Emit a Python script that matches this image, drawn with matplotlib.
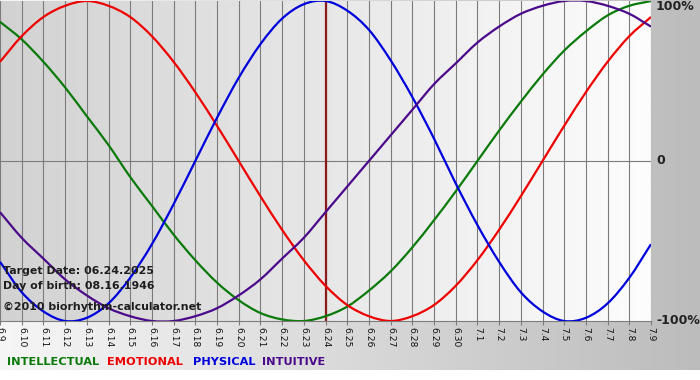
import numpy as np
import matplotlib
matplotlib.use("Agg")
import matplotlib.pyplot as plt
from matplotlib.colors import LinearSegmentedColormap
from matplotlib.path import Path
from matplotlib.patches import PathPatch

days = ["6.9", "6.10", "6.11", "6.12", "6.13", "6.14", "6.15", "6.16", "6.17",
        "6.18", "6.19", "6.20", "6.21", "6.22", "6.23", "6.24", "6.25", "6.26",
        "6.27", "6.28", "6.29", "6.30", "7.1", "7.2", "7.3", "7.4", "7.5",
        "7.6", "7.7", "7.8", "7.9"]
target_day = "6.24"

# values, -1 .. 1
intellectual = [0.87, 0.76, 0.62, 0.46, 0.28, 0.10, -0.10, -0.28, -0.46, -0.62,
                -0.76, -0.87, -0.95, -0.99, -1.00, -0.97, -0.91, -0.81, -0.69,
                -0.54, -0.37, -0.19, 0.00, 0.19, 0.37, 0.54, 0.69, 0.81, 0.91,
                0.97, 1.00]
emotional = [0.62, 0.78, 0.90, 0.97, 1.00, 0.97, 0.90, 0.78, 0.62, 0.43, 0.22,
             0.00, -0.22, -0.43, -0.62, -0.78, -0.90, -0.97, -1.00, -0.97,
             -0.90, -0.78, -0.62, -0.43, -0.22, 0.00, 0.22, 0.43, 0.62, 0.78,
             0.90]
physical = [-0.63, -0.82, -0.94, -1.00, -0.98, -0.89, -0.73, -0.52, -0.27,
            0.00, 0.27, 0.52, 0.73, 0.89, 0.98, 1.00, 0.94, 0.82, 0.63, 0.40,
            0.14, -0.14, -0.40, -0.63, -0.82, -0.94, -1.00, -0.98, -0.89,
            -0.73, -0.52]
intuitive = [-0.32, -0.48, -0.61, -0.74, -0.84, -0.92, -0.97, -1.00, -1.00,
             -0.97, -0.92, -0.84, -0.74, -0.61, -0.48, -0.32, -0.16, 0.00,
             0.16, 0.32, 0.48, 0.61, 0.74, 0.84, 0.92, 0.97, 1.00, 1.00, 0.97,
             0.92, 0.84]

series = [
    ("INTELLECTUAL", intellectual, "#0a7a0a"),
    ("EMOTIONAL", emotional, "#ee0000"),
    ("PHYSICAL", physical, "#0000dd"),
    ("INTUITIVE", intuitive, "#4b0a8a"),
]


def smooth_path(xs, ys):
    # bezier through the daily points (catmull-rom style handles)
    p = np.column_stack([xs, ys]).astype(float)
    ext = np.vstack([2 * p[0] - p[1], p, 2 * p[-1] - p[-2]])
    verts = [p[0]]
    codes = [Path.MOVETO]
    for i in range(1, len(ext) - 2):
        c1 = ext[i] + (ext[i + 1] - ext[i - 1]) / 6
        c2 = ext[i + 1] - (ext[i + 2] - ext[i]) / 6
        verts += [c1, c2, ext[i + 1]]
        codes += [Path.CURVE4] * 3
    return Path(verts, codes)


W, H = 700, 380
fig = plt.figure(figsize=(W / 100, H / 100), dpi=100)
fig.patch.set_facecolor("white")

grad = np.linspace(0, 1, 256).reshape(1, -1)

# page background gradient
bg = fig.add_axes([0, 0, 1, 1], zorder=0)
bg.imshow(grad, cmap=LinearSegmentedColormap.from_list("page", ["#f6f6f6", "#bcbcbc"]),
          aspect="auto", extent=[0, 1, 10 / H, 1])
bg.set_xlim(0, 1)
bg.set_ylim(0, 1)
bg.axis("off")

x = np.arange(len(days))
ax = fig.add_axes([0, 1 - 321 / H, 651 / W, 320 / H], zorder=1)
ax.imshow(grad, cmap=LinearSegmentedColormap.from_list("plot", ["#d2d2d2", "#fdfdfd"]),
          aspect="auto", extent=[0, len(days) - 1, -1, 1], zorder=0)

for xi in x:
    ax.axvline(xi, color="#7c7c7c", lw=0.8, zorder=1)
ax.axhline(0, color="#7c7c7c", lw=0.8, zorder=1)
ax.axvline(days.index(target_day), color="#8a1c1c", lw=1.6, zorder=2)

for name, vals, col in series:
    ax.add_patch(PathPatch(smooth_path(x, vals), facecolor="none", edgecolor=col,
                           lw=1.6, zorder=3))

ax.set_xlim(0, len(days) - 1)
ax.set_ylim(-1, 1)
ax.set_yticks([])
ax.set_xticks(x)
ax.set_xticklabels(days, rotation=-90, fontsize=6.6, color="#111111")
ax.tick_params(axis="x", length=3, color="#7c7c7c", pad=1)
for s in ["left", "top", "right"]:
    ax.spines[s].set_visible(False)
ax.spines["bottom"].set_color("#7c7c7c")

# right side labels
for lab, yp in [("100%", 6), ("0", 161), ("-100%", 321)]:
    fig.text(656 / W, 1 - yp / H, lab, fontsize=9, fontweight="bold",
             color="#222222", va="center", ha="left", zorder=5)

# info text over the plot
info = [("Target Date: 06.24.2025", 271), ("Day of birth: 08.16.1946", 286),
        ("\u00a92010 biorhythm-calculator.net", 307)]
for txt, yp in info:
    fig.text(3 / W, 1 - yp / H, txt, fontsize=7.9, fontweight="bold",
             color="#1e1e1e", va="center", ha="left", zorder=5)

# legend words
leg_x = [7, 107, 193, 262]
for (name, vals, col), lx in zip(series, leg_x):
    fig.text(lx / W, 1 - 362 / H, name, fontsize=8.2, fontweight="bold",
             color=col, va="center", ha="left", zorder=5)

fig.savefig("out.png", dpi=100)
